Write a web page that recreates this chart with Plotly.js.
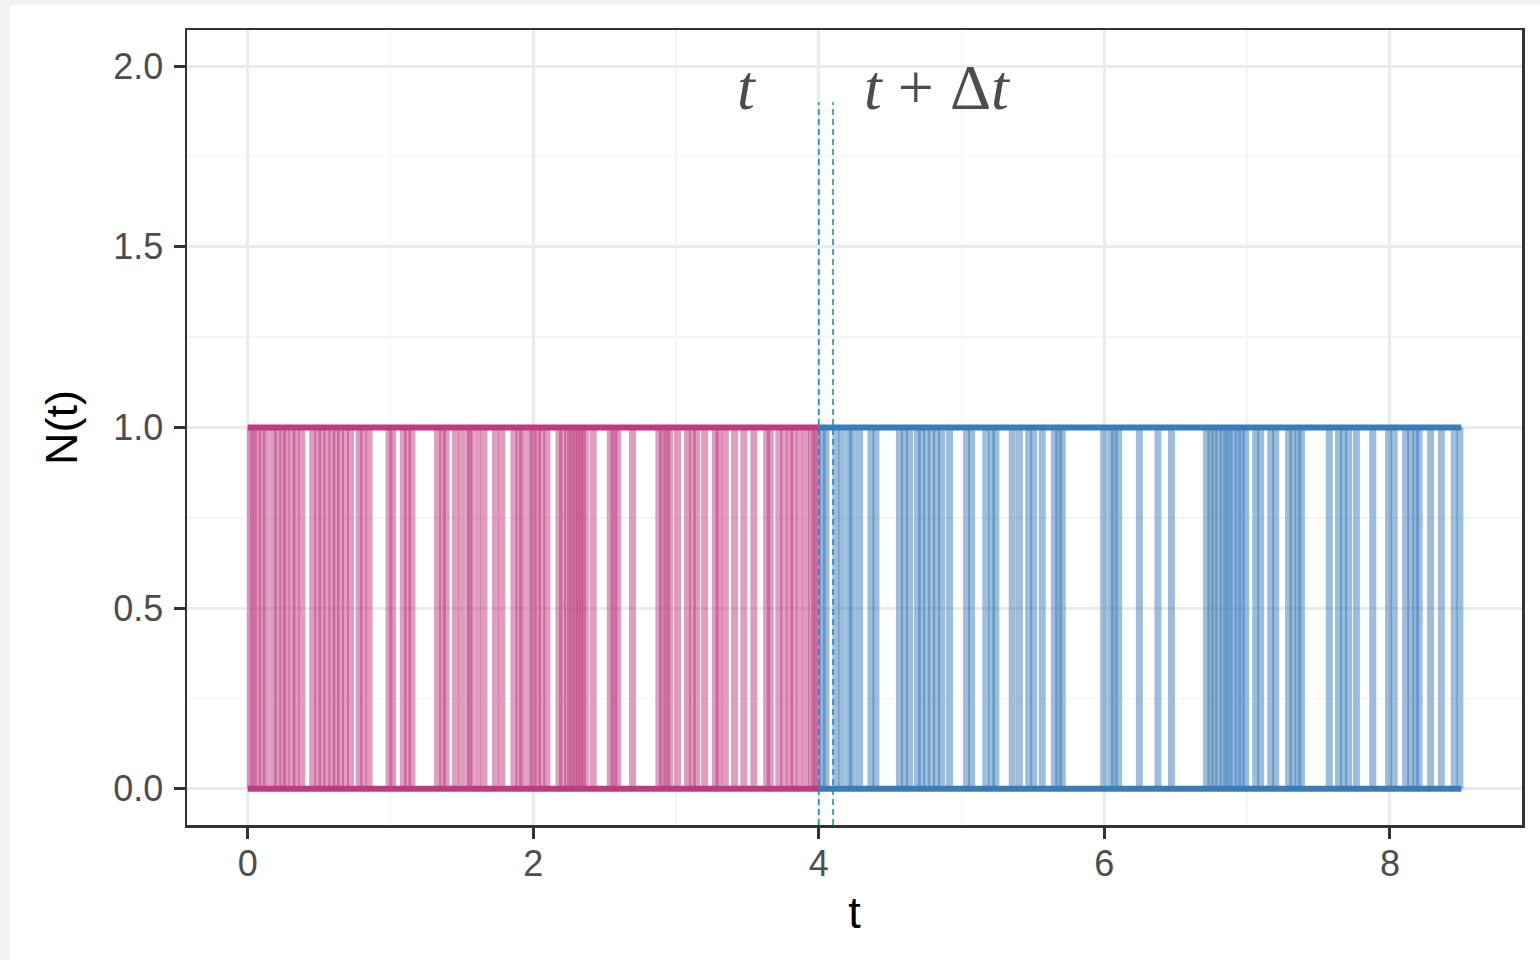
<!DOCTYPE html>
<html>
<head>
<meta charset="utf-8">
<script src="https://cdn.plot.ly/plotly-3.0.1.min.js"></script>
<style>
html,body{margin:0;padding:0;background:#f3f3f3;width:1540px;height:960px;overflow:hidden;}
#chart{position:absolute;left:10px;top:5px;width:1530px;height:955px;background:#fff;}
</style>
</head>
<body>
<div id="chart"></div>
<script>
// Event (jump) times before t = 4 (pink) and after t = 4 (blue)
var pinkTimes = [0.02,0.04,0.07,0.10,0.13,0.18,0.21,0.245,0.27,0.31,0.34,0.38,0.455,0.49,0.52,0.555,0.59,0.62,0.65,0.685,0.72,0.78,0.81,0.85,0.99,1.015,1.09,1.12,1.15,1.33,1.365,1.39,1.455,1.50,1.55,1.56,1.61,1.655,1.735,1.78,1.865,1.90,1.925,1.975,2.00,2.03,2.06,2.095,2.18,2.205,2.24,2.26,2.285,2.305,2.325,2.345,2.365,2.42,2.54,2.565,2.59,2.695,2.88,2.905,2.935,2.955,3.01,3.08,3.115,3.145,3.20,3.275,3.30,3.345,3.41,3.475,3.545,3.635,3.66,3.72,3.755,3.795,3.825,3.865,3.91,3.95,3.97,3.99];
var blueTimes = [4.025,4.05,4.12,4.16,4.21,4.235,4.285,4.365,4.40,4.565,4.60,4.635,4.69,4.72,4.755,4.79,4.825,4.86,4.915,5.035,5.07,5.17,5.21,5.24,5.355,5.405,5.47,5.505,5.565,5.65,5.68,5.705,5.995,6.045,6.07,6.10,6.245,6.375,6.47,6.715,6.745,6.77,6.80,6.83,6.855,6.875,6.905,6.935,6.96,6.99,7.06,7.095,7.165,7.20,7.29,7.32,7.355,7.38,7.575,7.64,7.675,7.71,7.765,7.88,7.99,8.03,8.11,8.145,8.18,8.205,8.285,8.36,8.45,8.49];
var pinkSpan = [0, 4];
var blueSpan = [4, 8.5];
var levels = [0, 1];
var markTimes = [4, 4.1];
var markY = [-0.1, 1.9];
var xTicks = [0, 2, 4, 6, 8];
var yTicks = [0, 0.5, 1, 1.5, 2];

var PINK = '#BF3B80', BLUE = '#3A7CB8';
var PINK_A = 'rgba(191,59,128,0.5)', BLUE_A = 'rgba(58,124,184,0.5)';

var traces = [];
function vline(t, col) {
  traces.push({x:[t,t], y:[levels[0],levels[1]], mode:'lines', type:'scatter',
    line:{color:col, width:7}, hoverinfo:'skip', showlegend:false});
}
pinkTimes.forEach(function(t){ vline(t, PINK_A); });
blueTimes.forEach(function(t){ vline(t, BLUE_A); });
levels.forEach(function(lv){
  traces.push({x:pinkSpan, y:[lv,lv], mode:'lines', type:'scatter', line:{color:PINK,width:6}, hoverinfo:'skip', showlegend:false});
  traces.push({x:blueSpan, y:[lv,lv], mode:'lines', type:'scatter', line:{color:BLUE,width:6}, hoverinfo:'skip', showlegend:false});
});
markTimes.forEach(function(t){
  traces.push({x:[t,t], y:markY, mode:'lines', type:'scatter',
    line:{color:'#1A8CC0', width:1.6, dash:'6px,4px'}, hoverinfo:'skip', showlegend:false});
});

var layout = {
  width:1530, height:955,
  paper_bgcolor:'#ffffff', plot_bgcolor:'#ffffff',
  margin:{l:177, r:18, t:25, b:135},
  showlegend:false,
  font:{family:'Liberation Sans, Arial, sans-serif', color:'#4D4D4D'},
  xaxis:{range:[-0.425, 8.925], tickvals:xTicks, ticktext:xTicks.map(String),
    ticks:'outside', ticklen:11, tickwidth:3, tickcolor:'#333333',
    tickfont:{size:36, color:'#4D4D4D'}, ticklabelstandoff:-6,
    showgrid:true, gridcolor:'#EBEBEB', gridwidth:3, zeroline:false,
    minor:{dtick:1, tick0:0, showgrid:true, gridcolor:'#F4F4F4', gridwidth:1.5, ticks:''},
    showline:true, linecolor:'#333333', linewidth:2.5, mirror:true,
    title:{text:'t', font:{size:45, color:'#000000'}, standoff:14}},
  yaxis:{range:[-0.1, 2.1], tickvals:yTicks, ticktext:yTicks.map(function(v){return v.toFixed(1);}),
    ticks:'outside', ticklen:11, tickwidth:3, tickcolor:'#333333',
    tickfont:{size:36, color:'#4D4D4D'}, ticklabelstandoff:3,
    showgrid:true, gridcolor:'#EBEBEB', gridwidth:3, zeroline:false,
    minor:{dtick:0.25, tick0:0, showgrid:true, gridcolor:'#F4F4F4', gridwidth:1.5, ticks:''},
    showline:true, linecolor:'#333333', linewidth:2.5, mirror:true,
    title:{text:'N(t)', font:{size:45, color:'#000000'}, standoff:22}},
  annotations:[
    {x:3.5, y:1.94, xref:'x', yref:'y', showarrow:false,
     text:'<i>t</i>', font:{family:'Liberation Serif, DejaVu Serif, serif', size:64, color:'#4D4D4D'}},
    {x:4.83, y:1.94, xref:'x', yref:'y', showarrow:false,
     text:'<i>t</i>&nbsp;+&nbsp;Δ<i>t</i>', font:{family:'Liberation Serif, DejaVu Serif, serif', size:64, color:'#4D4D4D'}}
  ]
};
Plotly.newPlot('chart', traces, layout, {displayModeBar:false, staticPlot:true});
</script>
</body>
</html>
